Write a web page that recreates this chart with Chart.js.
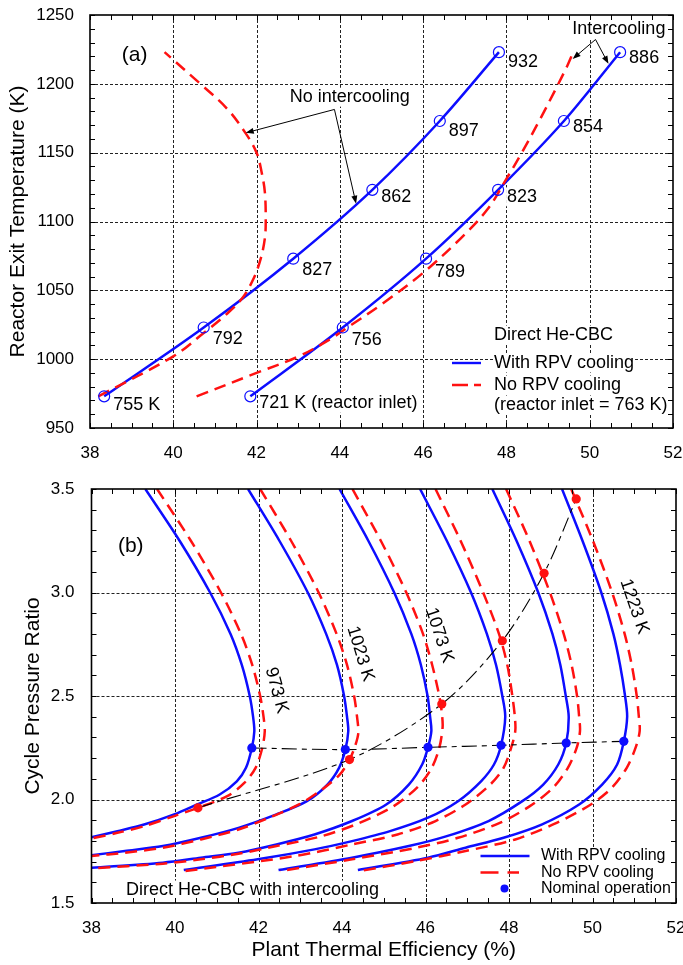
<!DOCTYPE html>
<html>
<head>
<meta charset="utf-8">
<script src="https://cdn.jsdelivr.net/npm/chart.js@4.4.0/dist/chart.umd.min.js"></script>
<style>
  html, body { margin: 0; padding: 0; background: #fff; }
  #wrap { position: relative; width: 683px; height: 965px; overflow: hidden; }
  #cA { position: absolute; left: 0; top: 0; }
  #cB { position: absolute; left: 0; top: 460px; }
</style>
</head>
<body>
<div id="wrap">
  <canvas id="cA" width="683" height="460"></canvas>
  <canvas id="cB" width="683" height="505"></canvas>
</div>
<script>
// ---------- (a) Reactor exit temperature vs plant efficiency ----------
const exitTempK       = [973, 1023, 1073, 1123, 1173, 1223];
const effNoIcCooled   = [38.34, 40.73, 42.88, 44.78, 46.40, 47.82];
const inletNoIcK      = [755, 792, 827, 862, 897, 932];
const effIcCooled     = [41.85, 44.07, 46.07, 47.80, 49.38, 50.73];
const inletIcK        = [721, 756, 789, 823, 854, 886];
const effNoIcUncooled = [38.20, 40.00, 40.73, 41.29, 41.65, 41.92, 42.10, 42.20, 42.22, 42.20, 42.12, 42.00, 41.74, 41.29, 40.65, 39.79];
const tmpNoIcUncooled = [973, 1002, 1019, 1033, 1044, 1058, 1073, 1088, 1100, 1121, 1136, 1150, 1164, 1182, 1200, 1223];
const effIcUncooled   = [40.56, 42.00, 43.01, 43.74, 44.28, 45.01, 46.01, 46.91, 47.55, 48.00, 48.37, 48.82, 49.18, 49.46, 49.59];
const tmpIcUncooled   = [973, 990, 1002, 1014, 1025, 1040, 1063, 1088, 1109, 1131, 1150, 1175, 1196, 1213, 1222];

// ---------- (b) Cycle pressure ratio vs plant efficiency ----------
const curveTempK = [973, 1023, 1073, 1123, 1173, 1223];
// with RPV cooling
const b973E  = [39.29, 40.11, 40.84, 41.33, 41.60, 41.79, 41.87, 41.90, 41.84, 41.70, 41.48, 41.07, 40.53, 39.98, 39.26, 38.62, 38.00];
const b973P  = [3.50, 3.25, 3.00, 2.80, 2.65, 2.50, 2.40, 2.33, 2.249, 2.153, 2.088, 2.024, 1.976, 1.928, 1.879, 1.847, 1.818];
const b1023E = [41.75, 42.50, 43.18, 43.62, 43.88, 44.05, 44.12, 44.15, 44.08, 43.93, 43.65, 43.16, 42.43, 41.52, 40.62, 39.71, 38.80, 38.00];
const b1023P = [3.50, 3.25, 3.00, 2.80, 2.65, 2.50, 2.40, 2.33, 2.241, 2.153, 2.072, 1.992, 1.928, 1.863, 1.815, 1.775, 1.751, 1.731];
const b1073E = [43.94, 44.63, 45.25, 45.66, 45.89, 46.05, 46.11, 46.14, 46.06, 45.92, 45.60, 45.06, 44.24, 43.34, 42.43, 41.52, 40.62, 39.71, 38.00];
const b1073P = [3.50, 3.25, 3.00, 2.80, 2.65, 2.50, 2.40, 2.33, 2.252, 2.169, 2.072, 1.976, 1.896, 1.831, 1.783, 1.743, 1.719, 1.695, 1.670];
const b1123E = [45.87, 46.51, 47.09, 47.47, 47.69, 47.84, 47.91, 47.81, 47.64, 47.33, 46.78, 46.06, 45.15, 44.24, 43.34, 41.98, 40.21];
const b1123P = [3.50, 3.25, 3.00, 2.80, 2.65, 2.50, 2.40, 2.262, 2.169, 2.088, 1.992, 1.912, 1.847, 1.799, 1.759, 1.711, 1.659];
const b1173E = [47.60, 48.18, 48.70, 49.04, 49.23, 49.36, 49.43, 49.37, 49.18, 48.82, 48.32, 47.51, 46.51, 45.60, 44.24, 42.48];
const b1173P = [3.50, 3.25, 3.00, 2.80, 2.65, 2.50, 2.40, 2.273, 2.169, 2.072, 1.992, 1.896, 1.823, 1.775, 1.719, 1.659];
const b1223E = [49.27, 49.76, 50.21, 50.50, 50.66, 50.78, 50.83, 50.75, 50.59, 50.23, 49.68, 48.78, 47.87, 46.96, 46.06, 44.38];
const b1223P = [3.50, 3.25, 3.00, 2.80, 2.65, 2.50, 2.40, 2.281, 2.169, 2.072, 1.976, 1.879, 1.815, 1.767, 1.719, 1.659];
// no RPV cooling
const r973E  = [39.57, 40.38, 41.10, 41.58, 41.85, 42.04, 42.12, 42.15, 42.09, 41.93, 41.66, 41.25, 40.55, 39.98, 39.26, 38.62, 38.00];
const r973P  = [3.50, 3.25, 3.00, 2.80, 2.65, 2.50, 2.40, 2.33, 2.249, 2.153, 2.080, 2.016, 1.960, 1.920, 1.871, 1.839, 1.812];
const r1023E = [42.04, 42.78, 43.44, 43.87, 44.12, 44.29, 44.36, 44.39, 44.30, 44.18, 43.95, 43.52, 42.97, 42.25, 41.52, 40.62, 39.71, 38.80, 38.00];
const r1023P = [3.50, 3.25, 3.00, 2.80, 2.65, 2.50, 2.40, 2.32, 2.25, 2.193, 2.121, 2.048, 1.976, 1.912, 1.855, 1.807, 1.767, 1.743, 1.727];
const r1073E = [44.25, 44.93, 45.54, 45.94, 46.16, 46.33, 46.39, 46.41, 46.33, 46.15, 45.83, 45.24, 44.42, 43.52, 42.43, 41.52, 40.62, 39.71, 38.00];
const r1073P = [3.50, 3.25, 3.00, 2.80, 2.65, 2.50, 2.42, 2.35, 2.249, 2.153, 2.064, 1.968, 1.887, 1.823, 1.775, 1.738, 1.711, 1.690, 1.667];
const r1123E = [46.24, 46.84, 47.38, 47.76, 47.96, 48.08, 48.14, 48.15, 48.05, 47.87, 47.55, 46.96, 46.24, 45.33, 44.24, 42.88, 40.25];
const r1123P = [3.50, 3.25, 3.00, 2.80, 2.65, 2.50, 2.40, 2.33, 2.249, 2.153, 2.072, 1.976, 1.896, 1.831, 1.783, 1.727, 1.654];
const r1173E = [47.93, 48.49, 48.98, 49.31, 49.50, 49.63, 49.68, 49.70, 49.62, 49.41, 49.05, 48.50, 47.78, 46.78, 45.78, 44.24, 42.52];
const r1173P = [3.50, 3.25, 3.00, 2.80, 2.65, 2.50, 2.40, 2.33, 2.249, 2.153, 2.056, 1.968, 1.887, 1.815, 1.767, 1.711, 1.654];
const r1223E = [49.49, 50.01, 50.47, 50.77, 50.94, 51.06, 51.11, 51.13, 51.03, 50.82, 50.46, 49.96, 49.14, 48.15, 46.96, 45.78, 44.42];
const r1223P = [3.50, 3.25, 3.00, 2.80, 2.65, 2.50, 2.40, 2.33, 2.249, 2.153, 2.056, 1.976, 1.887, 1.807, 1.751, 1.703, 1.654];
// nominal operating points
const nomCooledEff   = [41.84, 44.08, 46.06, 47.81, 49.37, 50.75];
const nomCooledPR    = [2.249, 2.241, 2.252, 2.262, 2.273, 2.281];
const nomUncooledEff = [40.55, 44.18, 46.39, 47.84, 48.84, 49.61];
const nomUncooledPR  = [1.960, 2.193, 2.461, 2.767, 3.093, 3.452];

// ---------- styling ----------
const BLUE = '#0d0dff';
const RED = '#ff1111';
const FONT = '"Liberation Sans", Arial, Helvetica, sans-serif';
const RED_DASH = [12, 7];
const NOM_DASH = [15, 5, 5, 5];

const pts = (xs, ys) => xs.map((x, i) => ({ x, y: ys[i] }));

function arrow(ctx, x1, y1, x2, y2) {
  const ang = Math.atan2(y2 - y1, x2 - x1);
  const L = 8, W = 3;
  ctx.beginPath();
  ctx.moveTo(x1, y1);
  ctx.lineTo(x2 - L * 0.8 * Math.cos(ang), y2 - L * 0.8 * Math.sin(ang));
  ctx.stroke();
  ctx.beginPath();
  ctx.moveTo(x2, y2);
  ctx.lineTo(x2 - L * Math.cos(ang) + W * Math.sin(ang), y2 - L * Math.sin(ang) - W * Math.cos(ang));
  ctx.lineTo(x2 - L * Math.cos(ang) - W * Math.sin(ang), y2 - L * Math.sin(ang) + W * Math.cos(ang));
  ctx.closePath();
  ctx.fill();
}

// Dashed grid, white text backgrounds, frame with inward minor ticks, and text/annotations.
function decorations(xMinor, yMinor, textItems, drawExtra) {
  return {
    id: 'decorations',
    beforeDatasetsDraw(chart) {
      const { ctx, chartArea: a, scales: { x, y } } = chart;
      ctx.save();
      ctx.strokeStyle = '#222';
      ctx.lineWidth = 1;
      ctx.setLineDash([3, 2]);
      ctx.beginPath();
      x.ticks.forEach(t => {
        const p = Math.round(x.getPixelForValue(t.value)) + 0.5;
        if (p > a.left + 2 && p < a.right - 2) { ctx.moveTo(p, a.top); ctx.lineTo(p, a.bottom); }
      });
      y.ticks.forEach(t => {
        const p = Math.round(y.getPixelForValue(t.value)) + 0.5;
        if (p > a.top + 2 && p < a.bottom - 2) { ctx.moveTo(a.left, p); ctx.lineTo(a.right, p); }
      });
      ctx.stroke();
      ctx.setLineDash([]);
      // white boxes behind text labels
      ctx.fillStyle = '#fff';
      textItems(chart).forEach(it => {
        if (!it.bg) return;
        ctx.font = it.font;
        const w = ctx.measureText(it.text).width;
        const h = it.size * 1.05;
        let x0 = it.x;
        if (it.align === 'center') x0 -= w / 2;
        else if (it.align === 'right') x0 -= w;
        ctx.fillRect(x0 - 1, it.y - h / 2, w + 2, h);
      });
      ctx.restore();
    },
    afterDatasetsDraw(chart) {
      const { ctx, chartArea: a, scales: { x, y } } = chart;
      ctx.save();
      ctx.strokeStyle = '#000';
      ctx.lineWidth = 1;
      ctx.beginPath();
      const nx = Math.round((x.max - x.min) / xMinor);
      for (let i = 0; i <= nx; i++) {
        const p = Math.round(x.getPixelForValue(x.min + i * xMinor)) + 0.5;
        ctx.moveTo(p, a.bottom); ctx.lineTo(p, a.bottom - 5);
        ctx.moveTo(p, a.top); ctx.lineTo(p, a.top + 5);
      }
      const ny = Math.round((y.max - y.min) / yMinor);
      for (let i = 0; i <= ny; i++) {
        const p = Math.round(y.getPixelForValue(y.min + i * yMinor)) + 0.5;
        ctx.moveTo(a.left, p); ctx.lineTo(a.left + 5, p);
        ctx.moveTo(a.right, p); ctx.lineTo(a.right - 5, p);
      }
      ctx.stroke();
      ctx.lineWidth = 1.6;
      ctx.strokeRect(a.left, a.top, a.right - a.left, a.bottom - a.top);
      // text
      ctx.fillStyle = '#000';
      ctx.textBaseline = 'middle';
      textItems(chart).forEach(it => {
        ctx.font = it.font;
        ctx.textAlign = it.align || 'left';
        if (it.rot) {
          ctx.save();
          ctx.translate(it.x, it.y);
          ctx.rotate(it.rot * Math.PI / 180);
          ctx.textAlign = 'center';
          ctx.fillText(it.text, 0, 0);
          ctx.restore();
        } else {
          ctx.fillText(it.text, it.x, it.y);
        }
      });
      if (drawExtra) drawExtra(chart);
      ctx.restore();
    }
  };
}

const f = (size) => `${size}px ${FONT}`;

function effAxis(h, withTitle) {
  return {
    type: 'linear', min: 38, max: 52,
    ticks: { stepSize: 2, padding: 7, color: '#000', font: { family: FONT, size: 17 }, maxRotation: 0, autoSkip: false, callback: v => String(v) },
    grid: { display: false }, border: { display: false },
    title: withTitle ? { display: true, text: 'Plant Thermal Efficiency (%)', color: '#000', font: { family: FONT, size: 21 }, padding: { top: 0, bottom: 2 } } : { display: false },
    afterFit: s => { s.height = h; s.paddingLeft = 0; s.paddingRight = 0; }
  };
}

// ---------- chart (a) ----------
const textA = (chart) => {
  const { scales: { x, y }, chartArea: a } = chart;
  const X = v => x.getPixelForValue(v), Y = v => y.getPixelForValue(v);
  const items = [];
  const dyNoIc = [9, 12, 11, 7, 10, 10];
  const dyIc = [7, 13, 13, 7, 6, 6];
  inletNoIcK.forEach((t, i) => items.push({ text: i === 0 ? `${t} K` : `${t}`, x: X(effNoIcCooled[i]) + 9, y: Y(exitTempK[i]) + dyNoIc[i], font: f(18), size: 18 }));
  inletIcK.forEach((t, i) => items.push({ text: i === 0 ? `${t} K (reactor inlet)` : `${t}`, x: X(effIcCooled[i]) + 9, y: Y(exitTempK[i]) + dyIc[i], font: f(18), size: 18, bg: true }));
  items.push({ text: '(a)', x: X(39.07), y: Y(1220.6), font: f(21), size: 21, align: 'center' });
  items.push({ text: 'No intercooling', x: X(44.24), y: Y(1190.3), font: f(18), size: 18, align: 'center', bg: true });
  items.push({ text: 'Intercooling', x: X(50.70), y: Y(1239.9), font: f(18), size: 18, align: 'center', bg: true });
  const lx = a.right - 179;
  items.push({ text: 'Direct He-CBC', x: lx, y: a.bottom - 93, font: f(18), size: 18, bg: true });
  items.push({ text: 'With RPV cooling', x: lx, y: a.bottom - 65, font: f(18), size: 18, bg: true });
  items.push({ text: 'No RPV cooling', x: lx, y: a.bottom - 43, font: f(18), size: 18, bg: true });
  items.push({ text: '(reactor inlet = 763 K)', x: lx, y: a.bottom - 23, font: f(18), size: 18, bg: true });
  return items;
};

const extraA = (chart) => {
  const { ctx, scales: { x, y }, chartArea: a } = chart;
  const X = v => x.getPixelForValue(v), Y = v => y.getPixelForValue(v);
  ctx.strokeStyle = '#000'; ctx.fillStyle = '#000'; ctx.lineWidth = 1;
  arrow(ctx, X(43.87), Y(1181.4), X(41.74), Y(1164.4));
  arrow(ctx, X(43.87), Y(1181.4), X(44.39), Y(1112.9));
  arrow(ctx, X(50.14), Y(1232.2), X(49.59), Y(1218.1));
  arrow(ctx, X(50.14), Y(1232.2), X(50.45), Y(1214.5));
  // legend samples
  ctx.lineWidth = 2.4;
  ctx.strokeStyle = BLUE;
  ctx.beginPath(); ctx.moveTo(a.right - 221, a.bottom - 65); ctx.lineTo(a.right - 192, a.bottom - 65); ctx.stroke();
  ctx.strokeStyle = RED;
  ctx.setLineDash([16, 6]);
  ctx.beginPath(); ctx.moveTo(a.right - 221, a.bottom - 43); ctx.lineTo(a.right - 192, a.bottom - 43); ctx.stroke();
  ctx.setLineDash([]);
};

new Chart(document.getElementById('cA'), {
  type: 'scatter',
  data: {
    datasets: [
      { data: pts(effNoIcCooled, exitTempK), showLine: false, pointRadius: 5.5, pointBorderColor: BLUE, pointBackgroundColor: 'rgba(0,0,0,0)', pointBorderWidth: 1.2, clip: false },
      { data: pts(effIcCooled, exitTempK), showLine: false, pointRadius: 5.5, pointBorderColor: BLUE, pointBackgroundColor: 'rgba(0,0,0,0)', pointBorderWidth: 1.2, clip: false },
      { data: pts(effNoIcUncooled, tmpNoIcUncooled), showLine: true, borderColor: RED, borderWidth: 2.5, borderDash: RED_DASH, tension: 0.35, pointRadius: 0, clip: 0 },
      { data: pts(effIcUncooled, tmpIcUncooled), showLine: true, borderColor: RED, borderWidth: 2.5, borderDash: RED_DASH, tension: 0.35, pointRadius: 0, clip: 0 },
      { data: pts(effNoIcCooled, exitTempK), showLine: true, borderColor: BLUE, borderWidth: 2.5, cubicInterpolationMode: 'monotone', pointRadius: 0, clip: 0 },
      { data: pts(effIcCooled, exitTempK), showLine: true, borderColor: BLUE, borderWidth: 2.5, cubicInterpolationMode: 'monotone', pointRadius: 0, clip: 0 }
    ]
  },
  options: {
    responsive: false, animation: false, devicePixelRatio: 1,
    layout: { padding: { left: 0, right: 10, top: 15, bottom: 0 } },
    plugins: { legend: { display: false }, tooltip: { enabled: false } },
    scales: {
      x: effAxis(32, false),
      y: {
        type: 'linear', min: 950, max: 1250,
        ticks: { stepSize: 50, padding: 8, color: '#000', font: { family: FONT, size: 17 }, callback: v => String(v) },
        grid: { display: false }, border: { display: false },
        title: { display: true, text: 'Reactor Exit Temperature (K)', color: '#000', font: { family: FONT, size: 21 }, padding: { top: 6, bottom: 0 } },
        afterFit: s => { s.width = 90; s.paddingTop = 0; s.paddingBottom = 0; }
      }
    }
  },
  plugins: [decorations(0.5, 10, textA, extraA)]
});

// ---------- chart (b) ----------
const textB = (chart) => {
  const { scales: { x, y }, chartArea: a } = chart;
  const X = v => x.getPixelForValue(v), Y = v => y.getPixelForValue(v);
  const items = [];
  items.push({ text: '(b)', x: X(38.94), y: Y(3.222), font: f(21), size: 21, align: 'center' });
  const labelPos = [[42.43, 2.527, 75], [44.44, 2.704, 73], [46.33, 2.793, 72], null, null, [51.0, 2.932, 71]];
  curveTempK.forEach((t, i) => {
    const p = labelPos[i];
    if (p) items.push({ text: `${t} K`, x: X(p[0]), y: Y(p[1]), rot: p[2], font: f(18), size: 18 });
  });
  items.push({ text: 'Direct He-CBC with intercooling', x: a.left + 34.5, y: a.bottom - 13, font: f(18), size: 18, bg: true });
  const lx = a.right - 135;
  items.push({ text: 'With RPV cooling', x: lx, y: a.bottom - 47, font: f(16), size: 16, bg: true });
  items.push({ text: 'No RPV cooling', x: lx, y: a.bottom - 30.5, font: f(16), size: 16, bg: true });
  items.push({ text: 'Nominal operation', x: lx, y: a.bottom - 14.5, font: f(16), size: 16, bg: true });
  return items;
};

const extraB = (chart) => {
  const { ctx, chartArea: a } = chart;
  ctx.lineWidth = 2.4;
  ctx.strokeStyle = BLUE;
  ctx.beginPath(); ctx.moveTo(a.right - 195.5, a.bottom - 47); ctx.lineTo(a.right - 146.5, a.bottom - 47); ctx.stroke();
  ctx.strokeStyle = RED;
  ctx.setLineDash([18, 9]);
  ctx.beginPath(); ctx.moveTo(a.right - 195.5, a.bottom - 30.5); ctx.lineTo(a.right - 157, a.bottom - 30.5); ctx.stroke();
  ctx.setLineDash([]);
  ctx.fillStyle = BLUE;
  ctx.beginPath(); ctx.arc(a.right - 171.5, a.bottom - 14.5, 4, 0, Math.PI * 2); ctx.fill();
};

const blueCurves = [[b973E, b973P], [b1023E, b1023P], [b1073E, b1073P], [b1123E, b1123P], [b1173E, b1173P], [b1223E, b1223P]];
const redCurves  = [[r973E, r973P], [r1023E, r1023P], [r1073E, r1073P], [r1123E, r1123P], [r1173E, r1173P], [r1223E, r1223P]];

const datasetsB = [
  { data: pts(nomCooledEff, nomCooledPR), showLine: false, pointRadius: 4.6, pointBackgroundColor: BLUE, pointBorderColor: BLUE, pointBorderWidth: 0, clip: false },
  { data: pts(nomUncooledEff, nomUncooledPR), showLine: false, pointRadius: 4.6, pointBackgroundColor: RED, pointBorderColor: RED, pointBorderWidth: 0, clip: false },
  { data: pts(nomCooledEff, nomCooledPR), showLine: true, borderColor: '#000', borderWidth: 1.1, borderDash: NOM_DASH, tension: 0.3, pointRadius: 0, clip: 0 },
  { data: pts(nomUncooledEff, nomUncooledPR), showLine: true, borderColor: '#000', borderWidth: 1.1, borderDash: NOM_DASH, tension: 0.3, pointRadius: 0, clip: 0 }
];
redCurves.forEach(([e, p]) => datasetsB.push({ data: pts(e, p), showLine: true, borderColor: RED, borderWidth: 2.5, borderDash: RED_DASH, tension: 0.3, pointRadius: 0, clip: 0 }));
blueCurves.forEach(([e, p]) => datasetsB.push({ data: pts(e, p), showLine: true, borderColor: BLUE, borderWidth: 2.5, tension: 0.3, pointRadius: 0, clip: 0 }));

new Chart(document.getElementById('cB'), {
  type: 'scatter',
  data: { datasets: datasetsB },
  options: {
    responsive: false, animation: false, devicePixelRatio: 1,
    layout: { padding: { left: 0, right: 7, top: 29, bottom: 0 } },
    plugins: { legend: { display: false }, tooltip: { enabled: false } },
    scales: {
      x: effAxis(62, true),
      y: {
        type: 'linear', min: 1.5, max: 3.5,
        ticks: { stepSize: 0.5, padding: 9, color: '#000', font: { family: FONT, size: 17 }, callback: v => v.toFixed(1) },
        grid: { display: false }, border: { display: false },
        title: { display: true, text: 'Cycle Pressure Ratio', color: '#000', font: { family: FONT, size: 21 }, padding: { top: 21, bottom: 0 } },
        afterFit: s => { s.width = 91.5; s.paddingTop = 0; s.paddingBottom = 0; }
      }
    }
  },
  plugins: [decorations(0.5, 0.1, textB, extraB)]
});
</script>
</body>
</html>
